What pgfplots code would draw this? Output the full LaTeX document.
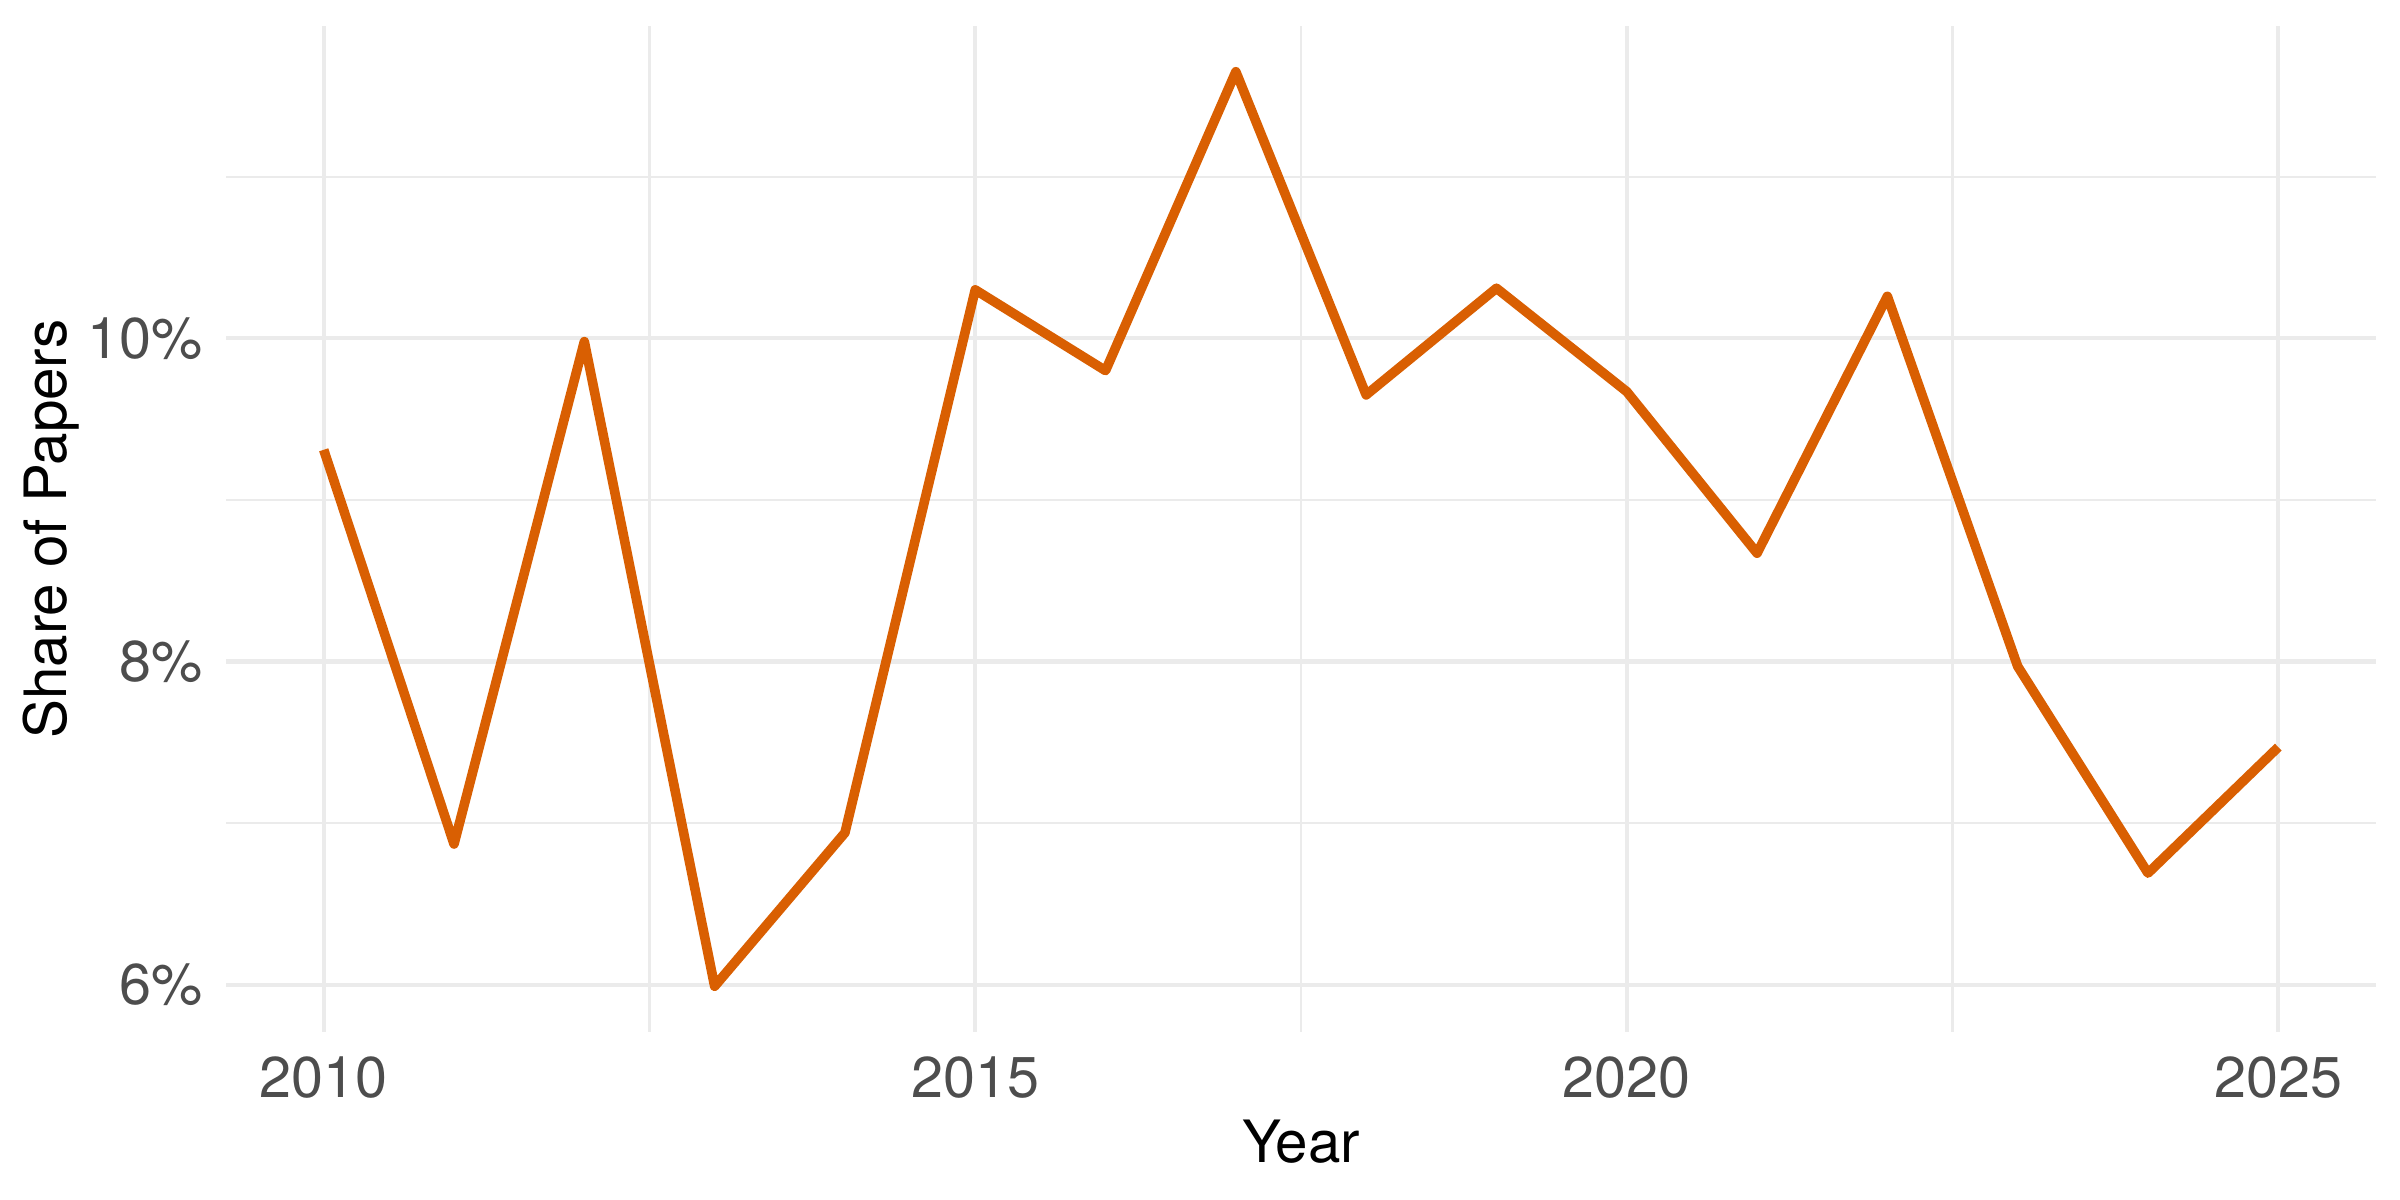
\documentclass[border=0pt]{standalone}
\usepackage{fontspec}
\setmainfont{TeX Gyre Heros}
\usepackage{pgfplots}
\pgfplotsset{compat=1.18}

\definecolor{lineorange}{HTML}{D95F02}
\definecolor{gridgray}{HTML}{EBEBEB}
\definecolor{ticktext}{HTML}{4D4D4D}

\begin{document}
\begin{tikzpicture}
\begin{axis}[
  at={(54.24pt,40.32pt)}, anchor=south west,
  scale only axis,
  width=516pt, height=241.44pt,
  xmin=2009.25, xmax=2025.75,
  ymin=5.707, ymax=11.933,
  axis line style={draw=none},
  tick style={draw=none},
  major tick length=0pt, minor tick length=0pt,
  xtick={2010,2015,2020,2025},
  xticklabels={2010,2015,2020,2025},
  minor xtick={2012.5,2017.5,2022.5},
  ytick={6,8,10},
  yticklabels={6\%,8\%,10\%},
  minor ytick={7,9,11},
  grid=both,
  major grid style={draw=gridgray, line width=1.0pt},
  minor grid style={draw=gridgray, line width=0.5pt},
  /pgf/number format/assume math mode=true,
  tick label style={font=\fontsize{13.8}{16}\selectfont, text=ticktext, inner sep=0pt},
  xticklabel style={anchor=north, yshift=-5.8pt},
  yticklabel style={anchor=east, xshift=-5.5pt},
  xlabel={Year},
  ylabel={Share of Papers},
  label style={font=\fontsize{14}{17}\selectfont, text=black, inner sep=0pt},
  xlabel style={at={(axis description cs:0.5,-0.1301)}, anchor=base},
  ylabel style={at={(axis description cs:-0.0744,0.5)}, anchor=base, rotate=0},
]
\addplot[color=lineorange, line width=2.3pt, line join=round, mark=none] coordinates {
  (2010,9.31) (2011,6.87) (2012,9.98) (2013,5.99) (2014,6.94)
  (2015,10.30) (2016,9.80) (2017,11.65) (2018,9.65) (2019,10.31)
  (2020,9.67) (2021,8.67) (2022,10.26) (2023,7.97) (2024,6.69)
  (2025,7.47)
};
\end{axis}
\pgfresetboundingbox
\useasboundingbox (0,0) rectangle (576pt,288pt);
\end{tikzpicture}
\end{document}
